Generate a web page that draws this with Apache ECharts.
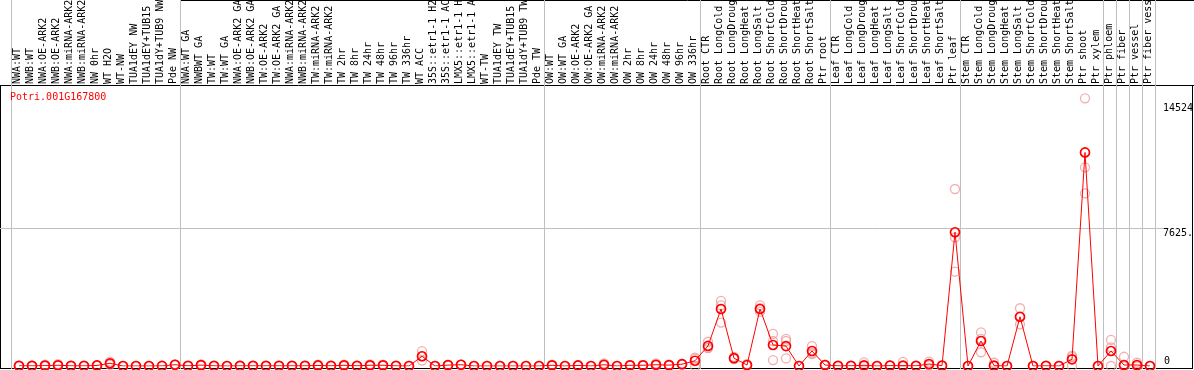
<!DOCTYPE html>
<html><head><meta charset="utf-8">
<script src="https://cdn.jsdelivr.net/npm/echarts@6/dist/echarts.min.js"></script>
<style>html,body{margin:0;padding:0;background:#fff;overflow:hidden}#c{width:1194px;height:370px}</style>
</head><body><div id="c"></div>
<script>
const title = 'Potri.001G167800';
const categories = [
 'NWA:WT','NWB:WT','NWA:OE-ARK2','NWB:OE-ARK2','NWA:miRNA-ARK2','NWB:miRNA-ARK2','NW 0hr','WT H2O','WT-NW','TUA1dEY NW','TUA1dEY+TUB15 NW','TUA1dY+TUB9 NW','Pde NW',
 'NWA:WT GA','NWBWT GA','TW:WT','TW:WT GA','NWA:OE-ARK2 GA','NWB:OE-ARK2 GA','TW:OE-ARK2','TW:OE-ARK2 GA','NWA:miRNA-ARK2','NWB:miRNA-ARK2','TW:miRNA-ARK2','TW:miRNA-ARK2','TW 2hr','TW 8hr','TW 24hr','TW 48hr','TW 96hr','TW 336hr','WT ACC','35S::etr1-1 H2O','35S::etr1-1 ACC','LMX5::etr1-1 H2O','LMX5::etr1-1 ACC','WT-TW','TUA1dEY TW','TUA1dEY+TUB15 TW','TUA1dY+TUB9 TW','Pde TW',
 'OW:WT','OW:WT GA','OW:OE-ARK2','OW:OE-ARK2 GA','OW:miRNA-ARK2','OW:miRNA-ARK2','OW 2hr','OW 8hr','OW 24hr','OW 48hr','OW 96hr','OW 336hr',
 'Root CTR','Root LongCold','Root LongDrought','Root LongHeat','Root LongSalt','Root ShortCold','Root ShortDrought','Root ShortHeat','Root ShortSalt','Ptr root',
 'Leaf CTR','Leaf LongCold','Leaf LongDrought','Leaf LongHeat','Leaf LongSalt','Leaf ShortCold','Leaf ShortDrought','Leaf ShortHeat','Leaf ShortSalt','Ptr leaf',
 'Stem CTR','Stem LongCold','Stem LongDrought','Stem LongHeat','Stem LongSalt','Stem ShortCold','Stem ShortDrought','Stem ShortHeat','Stem ShortSalt','Ptr shoot','Ptr xylem',
 'Ptr phloem','Ptr fiber','Ptr vessel','Ptr fiber vessel'
];
const means = [
 10,10,20,40,10,10,30,150,0,0,0,5,70,
 10,50,10,0,10,10,10,10,10,10,30,10,40,10,40,40,10,0,540,0,50,70,0,0,0,0,0,0,
 40,0,30,0,70,0,40,40,70,50,100,290,
 1110,3150,430,55,3150,1160,1100,0,830,55,
 10,10,40,0,20,20,10,110,20,7390,
 0,1380,20,0,2720,0,10,0,370,11800,0,
 830,55,55,0
];
const samples = [
 [10,5,15],[10,5,15],[20,70,0],[40,100,10],[10,10],[10,10],[30,40,20],[150,240,60],[0,0],[0,0],[0,0],[5,5],[70,90,50],
 [10,10],[50,90,20],[10,10],[0,0],[10,10],[10,10],[10,10],[10,10],[10,10],[10,10],[30,70,0],[10,10],[40,80,0],[10,10],[40,90,0],[40,80,10],[10,10],[0,0],[540,820,300],[0,0],[50,60,40],[70,80,60],[0,0],[0,0],[0,0],[0,0],[0,0],[0,0],
 [40,70,10],[0,0],[30,50,10],[0,0],[70,150,20],[0,0],[40,60,20],[40,60,20],[70,150,20],[50,80,20],[100,120,80],[460,410,0],
 [1340,1000,990],[3600,3350,2400],[500,420,380],[100,40,20],[3350,3200,3000],[1770,1380,330],[1500,1380,420],[0,0],[1100,730,660],[80,40,40],
 [10,10],[10,10],[200,0,0],[0,0],[20,20],[230,0,0],[10,10],[240,60,30],[20,20],[9780,7110,5210],
 [0,0],[1860,1500,760],[180,0,0],[0,0],[3190,2700,2300],[0,0],[10,10],[0,0],[570,500,0],[14790,10980,9540],[0,0],
 [1440,1030,0],[510,0,0],[180,0,0],[0,0]
];
const yLabelValues = [7625, 14524];
const yLabelTexts = {7625: '7625.', 14524: '14524'};
const yZeroLabel = [0];
const yMax = 15250;
const yStep = 7625;
const groupBoundaries = [0,13,41,53,63,73,84,85,86,87,88];

const mono = 'DejaVu Sans Mono';
const sampleData = [];
samples.forEach((arr, i) => arr.forEach(v => sampleData.push([i, v])));

const chart = echarts.init(document.getElementById('c'), null, {renderer: 'canvas'});
chart.setOption({
  animation: false,
  backgroundColor: '#fff',
  title: {text: title, left: 10, top: 92, padding: 0, textStyle: {color: '#f00', fontFamily: mono, fontSize: 10, fontWeight: 'normal'}},
  grid: [
    {left: 11, right: 39, top: 90, bottom: 4, outerBoundsMode: 'none', containLabel: false},
    {left: 11, right: 39, top: 0, bottom: 1, outerBoundsMode: 'none', containLabel: false},
    {left: 0, right: 31, top: 90, bottom: 4, outerBoundsMode: 'none', containLabel: false},
    {left: 12.5, right: 37.5, top: 90, bottom: 4, outerBoundsMode: 'none', containLabel: false}
  ],
  xAxis: [
    {gridIndex: 0, type: 'category', data: categories, position: 'top', boundaryGap: true,
     axisLine: {show: false}, axisTick: {show: false}, splitLine: {show: false},
     axisLabel: {interval: 0, rotate: 90, margin: 6, fontFamily: mono, fontSize: 10, color: '#000', hideOverlap: false}},
    {gridIndex: 1, type: 'category', data: categories, boundaryGap: true,
     axisLine: {show: false}, axisTick: {show: false}, axisLabel: {show: false},
     splitLine: {show: true, interval: (idx) => groupBoundaries.indexOf(idx) >= 0, lineStyle: {color: '#c0c0c0', width: 1}}},
    {gridIndex: 2, type: 'value', show: false, min: 0, max: 1},
    {gridIndex: 3, type: 'category', data: categories, boundaryGap: true, show: false}
  ],
  yAxis: [
    {gridIndex: 0, type: 'value', min: 0, max: yMax, show: false},
    {gridIndex: 1, type: 'value', show: false},
    {gridIndex: 2, type: 'value', min: 0, max: yMax, interval: yStep, position: 'right',
     axisLine: {show: false}, axisTick: {show: false},
     splitLine: {show: true, showMinLine: false, showMaxLine: false, lineStyle: {color: '#c0c0c0', width: 1}},
     axisLabel: {customValues: yLabelValues, formatter: v => yLabelTexts[v] || String(v), margin: 0, verticalAlign: 'top', align: 'left', fontFamily: mono, fontSize: 10, color: '#000'}},
    {gridIndex: 2, type: 'value', min: 0, max: yMax, interval: yStep, position: 'right',
     axisLine: {show: false}, axisTick: {show: false}, splitLine: {show: false},
     axisLabel: {customValues: yZeroLabel, margin: 1, verticalAlign: 'bottom', align: 'left', fontFamily: mono, fontSize: 10, color: '#000'}},
    {gridIndex: 3, type: 'value', min: 0, max: yMax, show: false}
  ],
  series: [
    {type: 'scatter', xAxisIndex: 3, yAxisIndex: 4, data: sampleData, symbol: 'circle', symbolSize: 9,
     itemStyle: {color: 'rgba(255,255,255,0)', borderColor: '#f09a9a', borderWidth: 1.3}, z: 2, silent: true},
    {type: 'line', xAxisIndex: 3, yAxisIndex: 4, data: means, symbol: 'circle', symbolSize: 9, showAllSymbol: true,
     lineStyle: {color: '#f00', width: 1}, itemStyle: {color: 'rgba(255,255,255,0)', borderColor: '#f00', borderWidth: 1.7}, z: 3, silent: true}
  ],
  graphic: [
    {type: 'line', shape: {x1: 181, y1: 0.5, x2: 1194, y2: 0.5}, style: {stroke: '#000', lineWidth: 1}, silent: true},
    {type: 'line', shape: {x1: 0, y1: 85.5, x2: 1194, y2: 85.5}, style: {stroke: '#000', lineWidth: 1}, silent: true},
    {type: 'line', shape: {x1: 0, y1: 368.5, x2: 1193, y2: 368.5}, style: {stroke: '#000', lineWidth: 1}, silent: true},
    {type: 'line', shape: {x1: 0.5, y1: 85, x2: 0.5, y2: 369}, style: {stroke: '#000', lineWidth: 1}, silent: true},
    {type: 'line', shape: {x1: 1192.5, y1: 85, x2: 1192.5, y2: 369}, style: {stroke: '#000', lineWidth: 1}, silent: true}
  ]
});
</script></body></html>
